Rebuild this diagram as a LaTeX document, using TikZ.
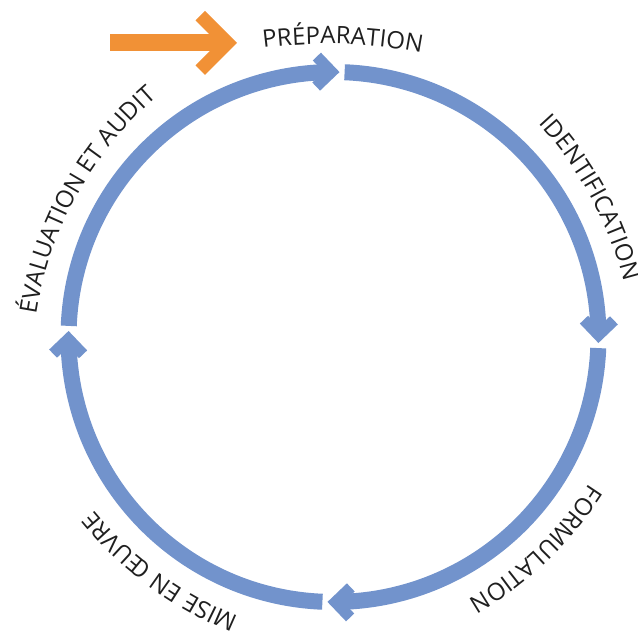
\documentclass[tikz,border=0pt]{standalone}
\usepackage{fontspec}
\setmainfont{Open Sans}
\newfontfamily\labelfont{Open Sans}
\usetikzlibrary{calc,decorations.text}
\definecolor{ringblue}{RGB}{114,147,204}
\definecolor{startorange}{RGB}{241,145,54}
\def\ringarc[#1](#2)(#3:#4:#5){\draw[#1] ($(#2)+(#3:#5)$) arc (#3:#4:#5);}
\def\chevron[#1](#2)(#3:#4:#5){\fill[#1, shift={(#2)}, rotate=#3] (0,0) -- (-#4,#4) -- ({-#4-#5/2},{#4-#5/2}) -- (-#5,0) -- ({-#4-#5/2},{-#4+#5/2}) -- (-#4,-#4) -- cycle;}
\def\ringlabel(#1:#2)#3{\path[decorate, decoration={text along path, text align=center, text color=black!88, text={|\labelfont\fontsize{24pt}{24pt}\selectfont|#3}}] ($(C)+(#1:293)-(#1:#2)+({#1+40}:#2)$) arc ({#1+40}:{#1-40}:#2);}

\begin{document}
\begin{tikzpicture}[x=1pt, y=1pt]
			%%%%% START %%%%%
			\useasboundingbox (0,0) rectangle (638,632);
			
			\coordinate (C) at (333.5,295);
			
			% cycle
			\foreach \t [count=\i] in {88.7,-1.3,-91.3,-181.3}{
				\pgfmathsetmacro\s{\t+88.9}
				\pgfmathsetmacro\e{\t+2.6}
				\pgfmathsetmacro\r{\t-90}
				\ringarc[ringblue, line width=16pt](C)(\s:\e:265)
				\coordinate (tip\i) at ($(C)+(\t:265)$);
				\chevron[ringblue](tip\i)(\r:19:16)
			}
			
			% labels
			\ringlabel(88.2:495){PRÉPARATION}
			\ringlabel(28.5:360){IDENTIFICATION}
			\ringlabel(-46.3:360){FORMULATION}
			\ringlabel(-126.4:360){MISE EN ŒUVRE}
			\ringlabel(151:360){ÉVALUATION ET AUDIT}
			
			% start arrow
			\coordinate (start) at (110,589);
			\coordinate (starttip) at (237,589);
			\draw[startorange, line width=17pt] (start) -- ($(starttip)+(-15,0)$);
			\chevron[startorange](starttip)(0:32:19)
			
			%%%%% END %%%%%
\end{tikzpicture}
\end{document}
